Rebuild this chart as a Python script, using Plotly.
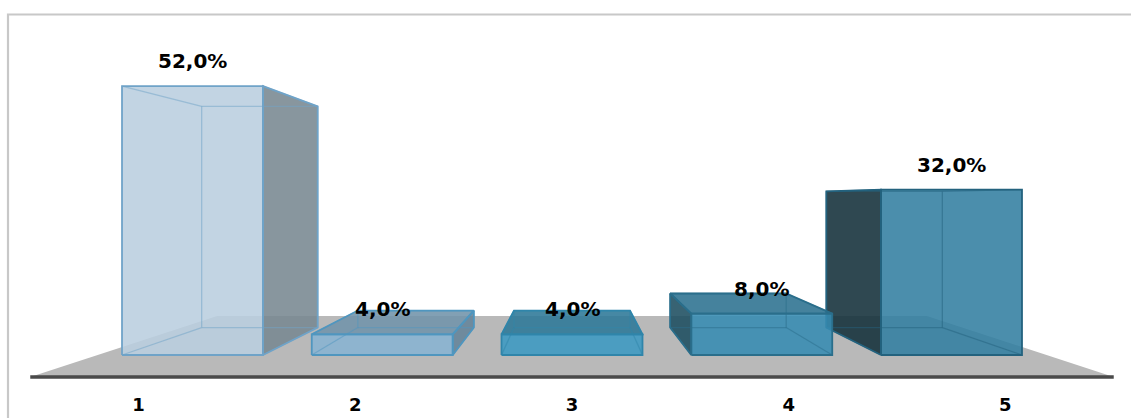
import plotly.graph_objects as go

# Survey results: share of answers for each score level
categories = ["1", "2", "3", "4", "5"]
values = [52.0, 4.0, 4.0, 8.0, 32.0]
value_labels = [f"{v:.1f}%".replace(".", ",") for v in values]

# Per-bar styling (front, side, top, edge colours)
bar_styles = [
    dict(front="rgba(186,206,223,0.88)", side="rgba(119,135,145,0.88)", top="rgba(113,147,170,0.88)", edge="#6FA3C8"),
    dict(front="rgba(135,179,210,0.88)", side="rgba(100,131,152,0.88)", top="rgba(113,147,170,0.88)", edge="#4F96BF"),
    dict(front="rgba(59,152,193,0.88)", side="rgba(40,100,125,0.88)", top="rgba(44,119,151,0.88)", edge="#2F85AA"),
    dict(front="rgba(53,139,178,0.88)", side="rgba(28,77,96,0.88)", top="rgba(43,113,143,0.88)", edge="#2A6E8B"),
    dict(front="rgba(50,126,160,0.88)", side="rgba(24,52,62,0.9)", top="rgba(43,113,143,0.88)", edge="#23627E"),
]

# Perspective set-up, in data units of the front plane
VX, VY = 3.0, 30.0          # vanishing point
T_BAR_BACK = 0.823          # scale of the back plane of the bars
T_FLOOR_FRONT = 1.142       # front edge of the floor
T_FLOOR_BACK = 0.748        # back edge of the floor
BAR_W = 0.743

W, H = 1131, 418
MB = 30
PLOT_H = H - MB
PX_PER_CAT = 189.75
PX_PER_PCT = 5.17
ZERO_PX = 355               # pixel row of 0% on the front plane
FIRST_CAT_PX = 192.5

LABEL_FONT = dict(family="DejaVu Sans", size=20, color="#000000", weight="bold")
TICK_FONT = dict(family="DejaVu Sans", size=18, color="#000000", weight="bold")


def proj(x, y, t):
    return VX + (x - VX) * t, VY + (y - VY) * t


def with_alpha(hex_color, a):
    h = hex_color.lstrip("#")
    r, g, b = int(h[0:2], 16), int(h[2:4], 16), int(h[4:6], 16)
    return f"rgba({r},{g},{b},{a})"


def poly(points, fill):
    xs = [p[0] for p in points] + [points[0][0]]
    ys = [p[1] for p in points] + [points[0][1]]
    return go.Scatter(
        x=xs, y=ys, mode="lines", fill="toself", fillcolor=fill,
        line=dict(color="rgba(0,0,0,0)", width=0),
        hoverinfo="skip", showlegend=False,
    )


def seg(a, b, color, width):
    return go.Scatter(
        x=[a[0], b[0]], y=[a[1], b[1]], mode="lines",
        line=dict(color=color, width=width),
        hoverinfo="skip", showlegend=False,
    )


fig = go.Figure()

# Floor
floor_l, floor_r = 0.5, len(categories) + 0.5
floor_pts = [
    proj(floor_l, 0, T_FLOOR_FRONT), proj(floor_r, 0, T_FLOOR_FRONT),
    proj(floor_r, 0, T_FLOOR_BACK), proj(floor_l, 0, T_FLOOR_BACK),
]
fig.add_trace(poly(floor_pts, "#B9B9B9"))
fig.add_trace(seg(floor_pts[0], floor_pts[1], "#4A4A4A", 3.5))

# Bars: outer ones first so the inner ones overlap them
order = sorted(range(len(values)), key=lambda i: -abs((i + 1) - VX))
for i in order:
    c = i + 1
    v = values[i]
    st = bar_styles[i]
    x0, x1 = c - BAR_W / 2, c + BAR_W / 2
    FBL, FBR, FTR, FTL = (proj(x0, 0, 1.0), proj(x1, 0, 1.0),
                          proj(x1, v, 1.0), proj(x0, v, 1.0))
    BBL, BBR, BTR, BTL = (proj(x0, 0, T_BAR_BACK), proj(x1, 0, T_BAR_BACK),
                          proj(x1, v, T_BAR_BACK), proj(x0, v, T_BAR_BACK))

    faces = []
    if x1 < VX:
        faces.append(([FBR, BBR, BTR, FTR], st["side"]))
    if x0 > VX:
        faces.append(([FBL, BBL, BTL, FTL], st["side"]))
    if v < VY:
        faces.append(([FTL, FTR, BTR, BTL], st["top"]))
    faces.append(([FBL, FBR, FTR, FTL], st["front"]))

    for pts, col in faces:
        fig.add_trace(poly(pts, col))

    # edges seen through the translucent faces
    faint = with_alpha(st["edge"], 0.5)
    for a_, b_ in [(BBL, BBR), (BBR, BTR), (BTR, BTL), (BTL, BBL),
                   (FBL, BBL), (FBR, BBR), (FTL, BTL), (FTR, BTR)]:
        fig.add_trace(seg(a_, b_, faint, 1.3))

    # outlines of the visible faces
    for pts, _ in faces:
        xs = [p[0] for p in pts] + [pts[0][0]]
        ys = [p[1] for p in pts] + [pts[0][1]]
        fig.add_trace(go.Scatter(x=xs, y=ys, mode="lines",
                                 line=dict(color=st["edge"], width=1.8),
                                 hoverinfo="skip", showlegend=False))

# Value labels above each bar
for i, (v, txt) in enumerate(zip(values, value_labels)):
    fig.add_annotation(x=i + 1, y=v, yshift=25, text=txt,
                       showarrow=False, font=LABEL_FONT)

x_range = [1 - FIRST_CAT_PX / PX_PER_CAT, 1 + (W - FIRST_CAT_PX) / PX_PER_CAT]
y_range = [-(PLOT_H - ZERO_PX) / PX_PER_PCT, ZERO_PX / PX_PER_PCT]
tick_pos = [VX + (i + 1 - VX) * T_FLOOR_FRONT for i in range(len(categories))]

# Outer frame of the chart area
fig.add_shape(type="rect", xref="paper", yref="paper",
              x0=8 / W, x1=1.05, y0=-0.3, y1=(PLOT_H - 14.5) / PLOT_H,
              line=dict(color="#C8C8C8", width=2.2), layer="below")

fig.update_layout(
    width=W, height=H,
    margin=dict(l=0, r=0, t=0, b=MB),
    paper_bgcolor="white", plot_bgcolor="white",
    xaxis=dict(range=x_range, tickvals=tick_pos, ticktext=categories,
               showgrid=False, zeroline=False, showline=False, ticks="",
               ticklabelstandoff=4, tickfont=TICK_FONT, fixedrange=True),
    yaxis=dict(range=y_range, visible=False, fixedrange=True),
    showlegend=False,
)

fig.write_html("out.html")
